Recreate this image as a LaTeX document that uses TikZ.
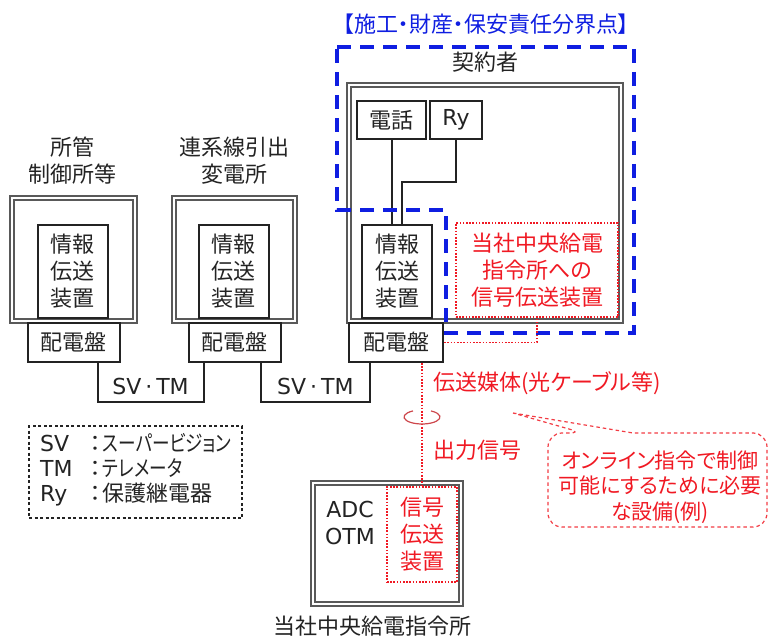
\documentclass[tikz,border=0pt]{standalone}
\usepackage{fontspec}
\setmainfont{Noto Sans CJK JP}[RawFeature=+palt]
\newfontfamily\latfont{DejaVu Sans}
\newcommand{\lat}[1]{{\latfont #1}}
\newcommand{\narrowkana}[1]{\scalebox{0.8}[1]{#1}}
\usetikzlibrary{positioning,calc}
\definecolor{bndblue}{RGB}{15,30,225}
\definecolor{sigred}{RGB}{240,25,35}
\definecolor{txtgray}{RGB}{35,35,35}
\definecolor{ringred}{RGB}{205,70,75}
\tikzset{
    station/.style={draw=black!65, line width=1.8pt, double=white, double distance=1.6pt, inner sep=0pt},
    unit/.style={draw=txtgray, line width=2pt, fill=white, inner sep=0pt, align=center, minimum width=70pt, minimum height=93pt},
    panel/.style={draw=txtgray, line width=2pt, fill=white, inner sep=0pt, minimum width=92pt, minimum height=39pt},
    sigbox/.style={draw=sigred, line width=1.6pt, dash pattern=on 1.6pt off 1.6pt, text=sigred, align=center, inner sep=0pt},
    wire/.style={draw=txtgray, line width=2pt},
    sigline/.style={draw=sigred, line width=1.6pt, dash pattern=on 1.6pt off 1.6pt},
    bnd/.style={draw=bndblue, line width=3.2pt, dash pattern=on 14pt off 9pt},
    ringline/.style={draw=ringred, line width=1.2pt},
    calloutline/.style={draw=sigred!85, line width=1.2pt, dash pattern=on 3.5pt off 3pt},
    legendbox/.style={draw=txtgray, line width=1.2pt, dash pattern=on 3pt off 2.5pt, inner sep=0pt}
}
\begin{document}
\begin{tikzpicture}[x=1pt, y=-1pt, text=txtgray, inner sep=2pt, font={\fontsize{22pt}{27pt}\selectfont}]
        \useasboundingbox (0,0) rectangle (769,639);

        % Boundary title
        \node[text=bndblue] (bndtitle) at (486,24) {【施工・財産・保安責任分界点】};

        % Stations
        \node[station, minimum width=123pt, minimum height=123pt] (st1) at (73.5,259.5) {};
        \node[station, minimum width=121pt, minimum height=123pt] (st2) at (234.5,259.5) {};
        \node[station, minimum width=272pt, minimum height=236pt] (st3) at (485,203) {};
        \node[align=center] (name1) at (72,161) {所管\\制御所等};
        \node[align=center] (name2) at (234,161) {連系線引出\\変電所};
        \node (name3) at (485,62) {契約者};

        % Transmission units
        \node[unit] (info1) at (72.5,271.5) {情報\\伝送\\装置};
        \node[unit] (info2) at (233.5,271.5) {情報\\伝送\\装置};
        \node[unit] (info3) at (397,271.5) {情報\\伝送\\装置};
        \node[unit, minimum width=69pt, minimum height=38pt] (tel) at (391.5,120) {電話};
        \node[unit, minimum width=52pt, minimum height=38pt] (ry) at (456,120) {\lat{Ry}};
        \coordinate (ryjoint) at (402,182);
        \draw[wire] (tel.south) -- (tel.south |- info3.north);
        \draw[wire] (ry.south) |- (ryjoint) -- (ryjoint |- info3.north);

        % Switchboards
        \node[panel, below=0pt of st1] (pb1) {配電盤};
        \node[panel, below=0pt of st2] (pb2) {配電盤};
        \node[panel, minimum width=94pt, below right=0pt and 0pt of st3.south west] (pb3) {配電盤};

        % SV/TM links
        \draw[wire] ([xshift=24pt]pb1.south) -- ++(0,39) -| node[pos=0.25, above, inner sep=6pt] {\lat{SV\hspace{4pt}·\hspace{4pt}TM}} ([xshift=-31pt]pb2.south);
        \draw[wire] ([xshift=26pt]pb2.south) -- ++(0,39) -| node[pos=0.25, above, inner sep=6pt] {\lat{SV\hspace{4pt}·\hspace{4pt}TM}} ([xshift=-26pt]pb3.south);

        % Boundary
        \draw[bnd] (337,47) -- (634,47) -- (634,333) -- (446,333) -- (446,210) -- (337,210) -- cycle;

        % Signal equipment
        \node[sigbox, minimum width=162pt, minimum height=94pt] (sig) at (537,270) {当社中央給電\\指令所への\\信号伝送装置};
        \node[station, minimum width=148pt, minimum height=121pt] (cc) at (387,543.5) {};
        \node[sigbox, minimum width=70pt, minimum height=95pt] (ccsig) at (422,534.5) {信号\\伝送\\装置};
        \node[align=center] (adc) at (350,523) {\lat{ADC}\\\lat{OTM}};
        \node (ccname) at (372,626) {当社中央給電指令所};
        \draw[sigline] (pb3.east) -| (sig.south);
        \draw[sigline] (pb3.south -| ccsig.north) -- (ccsig.north);

        % Medium
        \coordinate (ring) at (422,417);
        \draw[ringline] (ring) ++(120:18pt and 7pt) arc[start angle=120, end angle=420, x radius=18pt, y radius=7pt];
        \node[anchor=west, text=sigred] (media) at (431,383) {伝送媒体(光ケーブル等)};
        \node[anchor=west, text=sigred] (outsig) at (431,450) {出力信号};

        % Note
        \node[text=sigred, align=center, font={\fontsize{21pt}{25.5pt}\selectfont}] (note) at (660,487) {オンライン指令で制御\\可能にするために必要\\な設備(例)};
        \draw[calloutline] (513,413) -- (633,433) [rounded corners=14pt] -- (767,433) -- (767,527) -- (548,527) -- (548,433) -- (583,433) [sharp corners] -- cycle;

        % Legend
        \node[legendbox, minimum width=213pt, minimum height=92pt] (legend) at (135.5,472) {};
        \node[anchor=west, inner sep=0pt] (legtext) at (40,471) {\begin{tabular}{@{}l@{\hspace{17pt}：\hspace{2pt}}l@{}}\lat{SV} & \narrowkana{スーパービジョン}\\[-2pt] \lat{TM} & \narrowkana{テレメータ}\\[-2pt] \lat{Ry} & 保護継電器\end{tabular}};
\end{tikzpicture}
\end{document}
